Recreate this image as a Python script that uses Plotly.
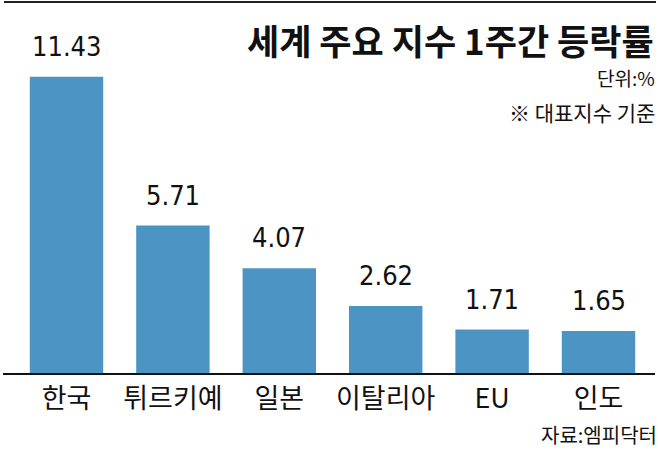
import plotly.graph_objects as go

categories = ["한국", "튀르키예", "일본", "이탈리아", "EU", "인도"]
values = [11.43, 5.71, 4.07, 2.62, 1.71, 1.65]
value_labels = ["11.43", "5.71", "4.07", "2.62", "1.71", "1.65"]

title_text = "세계\u00a0주요\u00a0지수\u00a01주간\u00a0등락률"
unit_text = "단위:%"
note_text = "※ 대표지수 기준"
source_text = "자료:엠피닥터"

W, H = 658, 450
BAR_COLOR = "#4b94c4"
KR = "Noto Sans CJK KR, Noto Sans, sans-serif"
NUM = "DejaVu Sans Condensed, Liberation Sans Narrow, Arial Narrow, Liberation Sans, sans-serif"

base_y = 374
top_y = 60
px_per_unit = 26.0
ymax = (base_y - top_y) / px_per_unit

fig = go.Figure()
fig.add_trace(go.Bar(
    x=categories, y=values,
    marker=dict(color=BAR_COLOR, line=dict(width=0)),
    hoverinfo="skip",
))

for c, v, t in zip(categories, values, value_labels):
    fig.add_annotation(
        x=c, y=v, xref="x", yref="y", text=t, showarrow=False,
        yanchor="bottom", yshift=13,
        font=dict(family=NUM, size=27, color="#111111"),
    )

fig.add_annotation(xref="paper", yref="paper", x=656 / W, y=1 - 39 / H,
                   xanchor="right", yanchor="middle", text="<b>" + title_text + "</b>",
                   showarrow=False, font=dict(family=KR, size=35, color="#111111"))
fig.add_annotation(xref="paper", yref="paper", x=657 / W, y=1 - 77 / H,
                   xanchor="right", yanchor="middle", text=unit_text,
                   showarrow=False, font=dict(family=KR, size=19, color="#111111"))
fig.add_annotation(xref="paper", yref="paper", x=657 / W, y=1 - 112 / H,
                   xanchor="right", yanchor="middle", text=note_text,
                   showarrow=False, font=dict(family=KR, size=21, color="#111111"))
fig.add_annotation(xref="paper", yref="paper", x=659 / W, y=1 - 434 / H,
                   xanchor="right", yanchor="middle", text=source_text,
                   showarrow=False, font=dict(family=KR, size=20, color="#111111"))

# top rule and baseline
fig.add_shape(type="line", xref="paper", yref="paper",
              x0=4 / W, x1=656 / W, y0=1 - 2 / H, y1=1 - 2 / H,
              line=dict(color="#222222", width=2))
fig.add_shape(type="line", xref="paper", yref="paper",
              x0=3 / W, x1=655 / W, y0=1 - base_y / H, y1=1 - base_y / H,
              line=dict(color="#111111", width=2))

x0 = 13.3
x1 = 651.7
fig.update_layout(
    width=W, height=H,
    margin=dict(l=0, r=0, t=0, b=0),
    paper_bgcolor="white", plot_bgcolor="white",
    showlegend=False,
    bargap=0.31,
    xaxis=dict(domain=[x0 / W, x1 / W], range=[-0.5, 5.5],
               showline=False, showgrid=False, zeroline=False, ticks="",
               ticklabelstandoff=6,
               tickfont=dict(family=KR, size=27, color="#111111"),
               fixedrange=True),
    yaxis=dict(domain=[1 - base_y / H, 1 - top_y / H], range=[0, ymax],
               visible=False, fixedrange=True),
)

fig.write_html("out.html", config={"displayModeBar": False})
